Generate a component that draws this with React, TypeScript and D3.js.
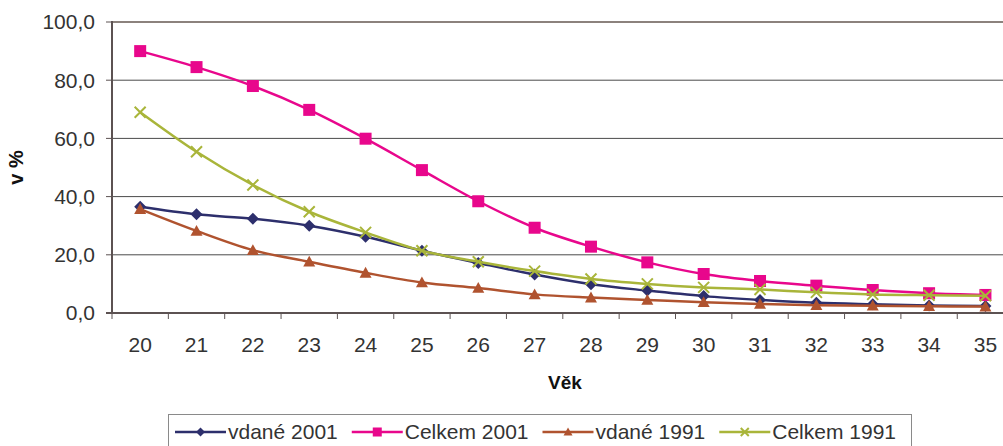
import React, { useMemo } from 'react';
import * as d3 from 'd3';

const ages = [20, 21, 22, 23, 24, 25, 26, 27, 28, 29, 30, 31, 32, 33, 34, 35];
const vdane2001 = [36.5, 33.9, 32.4, 30.0, 26.2, 21.4, 17.2, 13.2, 9.9, 7.7, 5.8, 4.5, 3.5, 3.0, 2.6, 2.4];
const celkem2001 = [90.0, 84.5, 78.0, 69.8, 59.9, 49.1, 38.4, 29.3, 22.8, 17.4, 13.4, 11.0, 9.4, 7.9, 6.8, 6.2];
const vdane1991 = [35.7, 28.2, 21.6, 17.6, 13.8, 10.5, 8.6, 6.4, 5.3, 4.5, 3.7, 3.1, 2.7, 2.5, 2.3, 2.2];
const celkem1991 = [69.0, 55.4, 44.0, 34.8, 27.7, 21.4, 17.6, 14.4, 11.7, 10.0, 8.8, 8.1, 7.1, 6.4, 6.1, 5.9];
const yTicks = [0, 20, 40, 60, 80, 100];
const seriesNames = ['vdané 2001', 'Celkem 2001', 'vdané 1991', 'Celkem 1991'];
const xTitle = 'Věk';
const yTitle = 'v %';

const W = 1003;
const H = 446;
const FONT = 'Liberation Sans, Arial, sans-serif';

const series = [
  { name: seriesNames[0], values: vdane2001, color: '#2d2f6c', marker: 'diamond' },
  { name: seriesNames[1], values: celkem2001, color: '#e8078c', marker: 'square' },
  { name: seriesNames[2], values: vdane1991, color: '#b0532f', marker: 'triangle' },
  { name: seriesNames[3], values: celkem1991, color: '#a9b53a', marker: 'x' },
];

function Marker({ type, x, y, s, color }: { type: string; x: number; y: number; s: number; color: string }) {
  if (type === 'diamond') {
    return <path d={`M${x},${y - s}L${x + s},${y}L${x},${y + s}L${x - s},${y}Z`} fill={color} />;
  }
  if (type === 'square') {
    return <rect x={x - s} y={y - s} width={2 * s} height={2 * s} fill={color} />;
  }
  if (type === 'triangle') {
    return <path d={`M${x},${y - s}L${x + s},${y + s * 0.8}L${x - s},${y + s * 0.8}Z`} fill={color} />;
  }
  return (
    <path
      d={`M${x - s},${y - s}L${x + s},${y + s}M${x - s},${y + s}L${x + s},${y - s}`}
      stroke={color}
      strokeWidth={2}
      fill="none"
    />
  );
}

export default function App() {
  const left = 112;
  const right = 1013.6;
  const top = 22;
  const bottom = 313;

  const x = d3.scaleBand<number>().domain(ages).range([left, right]).padding(0);
  const y = d3.scaleLinear().domain([0, 100]).range([bottom, top]);
  const cx = (a: number) => (x(a) as number) + x.bandwidth() / 2;

  const line = d3
    .line<number>()
    .x((_, i) => cx(ages[i]))
    .y((d) => y(d))
    .curve(d3.curveCatmullRom.alpha(0));

  const textWidths = useMemo(() => {
    const c = document.createElement('canvas').getContext('2d');
    if (!c) return seriesNames.map((n) => n.length * 11);
    c.font = `21px ${FONT}`;
    return seriesNames.map((n) => c.measureText(n).width);
  }, []);

  let lx = 175;
  const legendItems = series.map((s, i) => {
    const item = { ...s, x: lx };
    lx += 53 + textWidths[i] + 14;
    return item;
  });

  const boundaries = [...ages.map((a) => x(a) as number), right];

  return (
    <svg
      width={W}
      height={H}
      style={{ position: 'absolute', left: 0, top: 0, background: '#fff' }}
      fontFamily={FONT}
    >
      <rect x={0} y={0} width={W} height={H} fill="#fff" />
      {yTicks.slice(1, -1).map((t) => (
        <line key={t} x1={left} x2={right} y1={y(t)} y2={y(t)} stroke="#4a4a4a" strokeWidth={1} />
      ))}
      <line x1={left} x2={right} y1={top} y2={top} stroke="#8c827d" strokeWidth={2} />
      <line x1={left} x2={left} y1={top - 1} y2={bottom} stroke="#5c5252" strokeWidth={2} />
      {yTicks.map((t) => (
        <g key={t}>
          <line x1={left - 6} x2={left} y1={y(t)} y2={y(t)} stroke="#5c5252" strokeWidth={1} />
          <text x={95} y={y(t)} dy="0.35em" textAnchor="end" fontSize={21} fill="#333">
            {d3.format('.1f')(t).replace('.', ',')}
          </text>
        </g>
      ))}
      <line x1={left - 6} x2={right} y1={bottom} y2={bottom} stroke="#5c5252" strokeWidth={2} />
      {boundaries.map((b, i) => (
        <line key={i} x1={b} x2={b} y1={bottom} y2={bottom + 6} stroke="#5c5252" strokeWidth={1} />
      ))}
      {ages.map((a) => (
        <text key={a} x={cx(a)} y={352} textAnchor="middle" fontSize={21} fill="#333">
          {a}
        </text>
      ))}
      <text x={565} y={389} textAnchor="middle" fontSize={19} fontWeight="bold" fill="#111">
        {xTitle}
      </text>
      <text
        transform={`translate(23,${(top + bottom) / 2}) rotate(-90)`}
        textAnchor="middle"
        fontSize={20}
        fontWeight="bold"
        fill="#111"
      >
        {yTitle}
      </text>
      {series.map((s) => (
        <g key={s.name}>
          <path d={line(s.values) || ''} fill="none" stroke={s.color} strokeWidth={2.5} />
          {s.values.map((v, i) => (
            <Marker
              key={i}
              type={s.marker}
              x={cx(ages[i])}
              y={y(v)}
              s={s.marker === 'x' ? 5.5 : 6}
              color={s.color}
            />
          ))}
        </g>
      ))}
      <rect x={168.5} y={414.5} width={743} height={40} fill="#fff" stroke="#8a8a8a" strokeWidth={1} />
      {legendItems.map((it) => (
        <g key={it.name}>
          <line x1={it.x} x2={it.x + 51} y1={432} y2={432} stroke={it.color} strokeWidth={2.5} />
          <Marker type={it.marker} x={it.x + 25.5} y={432} s={it.marker === 'x' ? 4 : 4.5} color={it.color} />
          <text x={it.x + 53} y={432} dy="0.35em" fontSize={21} fill="#333">
            {it.name}
          </text>
        </g>
      ))}
    </svg>
  );
}
